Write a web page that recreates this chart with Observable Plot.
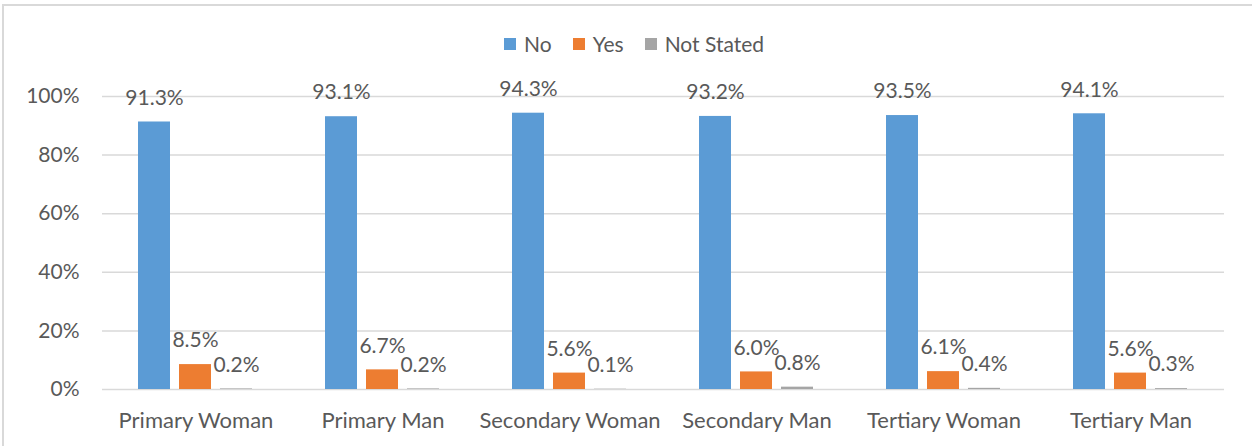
<!DOCTYPE html>
<html><head><meta charset="utf-8">
<script src="https://cdn.jsdelivr.net/npm/d3@7"></script>
<script src="https://cdn.jsdelivr.net/npm/@observablehq/plot@0.6"></script>
<style>
body{margin:0;background:#fff;font-family:Lato,"Open Sans",sans-serif;}
#wrap{position:relative;width:1252px;height:446px;overflow:hidden;}
#frame{position:absolute;left:2px;top:4px;width:1280px;height:480px;border-top:2px solid #d9d9d9;border-left:2px solid #d9d9d9;}
#chart{position:absolute;left:0;top:0;}
#legend{position:absolute;top:31px;left:504px;display:flex;align-items:center;font-size:21px;color:#595959;white-space:nowrap;}
#legend .item{display:flex;align-items:center;margin-right:21px;}
#legend .sw{width:12px;height:12px;margin-right:8px;}
.fxax text{font-size:22px;}
</style></head>
<body>
<div id="wrap"><div id="frame"></div><div id="chart"></div><div id="legend"></div></div>
<script>
const categories = ["Primary Woman","Primary Man","Secondary Woman","Secondary Man","Tertiary Woman","Tertiary Man"];
const series = ["No","Yes","Not Stated"];
const noVals = [91.3, 93.1, 94.3, 93.2, 93.5, 94.1];
const yesVals = [8.5, 6.7, 5.6, 6.0, 6.1, 5.6];
const notStatedVals = [0.2, 0.2, 0.1, 0.8, 0.4, 0.3];
const colors = ["#5B9BD5","#ED7D31","#A5A5A5"];
const yTicks = [0,20,40,60,80,100];

const valuesBySeries = [noVals, yesVals, notStatedVals];
const data = [];
categories.forEach((c,i) => series.forEach((s,j) => data.push({cat:c, series:s, value:valuesBySeries[j][i]})));

const chart = Plot.plot({
  width:1252, height:446,
  marginTop:96, marginBottom:57, marginLeft:100, marginRight:27,
  style:{fontFamily:"Lato, 'Open Sans', sans-serif", fontSize:"21px", color:"#595959", background:"transparent"},
  fx:{domain:categories, padding:0, label:null, axis:null},
  x:{domain:series, paddingInner:0.214, paddingOuter:0.839, axis:null},
  y:{domain:[0,100], ticks:yTicks, tickFormat:d=>d+"%", tickSize:0, tickPadding:23, label:null},
  color:{domain:series, range:colors},
  marks:[
    Plot.gridY(yTicks,{stroke:"#d9d9d9", strokeOpacity:1, strokeWidth:1.5}),
    Plot.axisFx({anchor:"bottom", tickSize:0, tickPadding:23, fontSize:22, label:null, className:"fxax"}),
    Plot.barY(data,{fx:"cat", x:"series", y:"value", fill:"series"}),
    Plot.text(data,{fx:"cat", x:"series", y:"value", text:d=>d.value.toFixed(1)+"%", dy:-24, fill:"#595959", fontSize:21})
  ]
});
document.getElementById("chart").appendChild(chart);

const legend = document.getElementById("legend");
series.forEach((s,i) => {
  const it = document.createElement("div"); it.className="item";
  const sw = document.createElement("div"); sw.className="sw"; sw.style.background=colors[i];
  const t = document.createElement("span"); t.textContent=s;
  it.appendChild(sw); it.appendChild(t); legend.appendChild(it);
});
</script>
</body></html>
